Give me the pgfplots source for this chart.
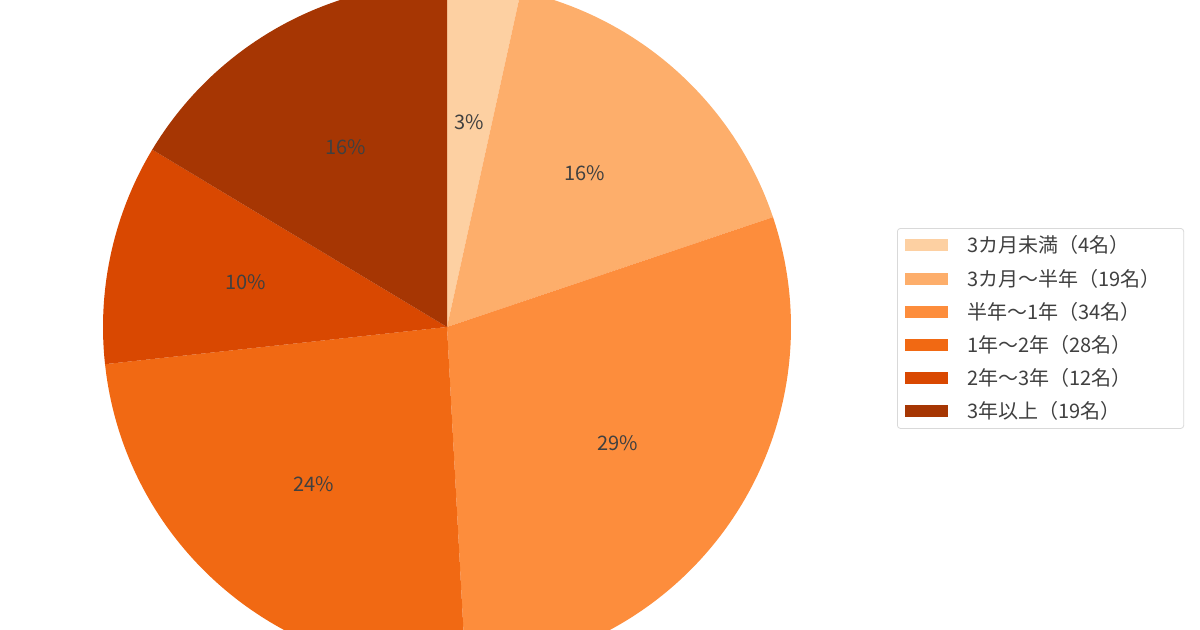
\documentclass[border=0pt]{standalone}
\usepackage{pgfplots}
\pgfplotsset{compat=1.18}
\usepackage{pgfplotstable}
\usepackage{fontspec}
\setmainfont{Noto Sans CJK JP}

\definecolor{c0}{HTML}{FDD0A2}
\definecolor{c1}{HTML}{FDAE6B}
\definecolor{c2}{HTML}{FD8D3C}
\definecolor{c3}{HTML}{F16913}
\definecolor{c4}{HTML}{D94801}
\definecolor{c5}{HTML}{A63603}

% number of respondents per period
\pgfplotstableread{
count
4
19
34
28
12
19
}\piedata

\newcommand{\lgpad}{\hspace*{7.5pt}}

\begin{document}
\begin{tikzpicture}
% total count
\xdef\total{0}
\foreach \n in {0,...,5}{%
  \pgfplotstablegetelem{\n}{count}\of\piedata
  \pgfmathsetmacro\tmp{\total+\pgfplotsretval}%
  \xdef\total{\tmp}}
\begin{axis}[
    width=600pt, height=315pt,
    scale only axis,
    xmin=0, xmax=1200, ymin=0, ymax=630,
    axis lines=none, ticks=none,
    clip=true,
    legend image code/.code={\fill[#1, draw=none, sharp corners] (0pt,-3pt) rectangle (21.5pt,3pt);},
    legend cell align=left,
    legend style={
        at={(axis description cs:0.7475,0.638)}, anchor=north west,
        draw=black!15, rounded corners=1.5pt,
        font=\fontsize{10pt}{12pt}\selectfont, text=black!75,
        inner xsep=4pt, inner ysep=3.75pt,
        nodes={inner sep=0pt, text height=8.5pt, text depth=1pt},
        row sep=7.1pt,
        /tikz/every odd column/.append style={column sep=9.5pt},
    },
]
\pgfplotsextra{%
  \xdef\cum{0}%
  \foreach \n in {0,...,5}{%
    \pgfplotstablegetelem{\n}{count}\of\piedata
    \let\sV\pgfplotsretval
    \pgfmathsetmacro\sA{90-(\cum/\total)*360}%
    \pgfmathsetmacro\sB{90-((\cum+\sV)/\total)*360}%
    \pgfmathsetmacro\sM{(\sA+\sB)/2}%
    \pgfmathtruncatemacro\sP{round((\sV/\total)*100)}%
    \fill[c\n] (axis cs:447,303) -- ++(\sA:172pt) arc[start angle=\sA, end angle=\sB, radius=172pt] -- cycle;
    \path (axis cs:447,303) ++(\sM:103.2pt) node[text=black!75, font=\fontsize{10pt}{12pt}\selectfont] {\sP\%};
    \pgfmathsetmacro\sC{\cum+\sV}%
    \xdef\cum{\sC}}%
  \coordinate (bl) at (rel axis cs:0,0);
  \coordinate (tr) at (rel axis cs:1,1);
}
\addlegendimage{fill=c0}\addlegendentry{3カ月未満（4名）\lgpad}
\addlegendimage{fill=c1}\addlegendentry{3カ月～半年（19名）\lgpad}
\addlegendimage{fill=c2}\addlegendentry{半年～1年（34名）\lgpad}
\addlegendimage{fill=c3}\addlegendentry{1年～2年（28名）\lgpad}
\addlegendimage{fill=c4}\addlegendentry{2年～3年（12名）\lgpad}
\addlegendimage{fill=c5}\addlegendentry{3年以上（19名）\lgpad}
\end{axis}
\pgfresetboundingbox
\useasboundingbox (bl) rectangle (tr);
\end{tikzpicture}
\end{document}
